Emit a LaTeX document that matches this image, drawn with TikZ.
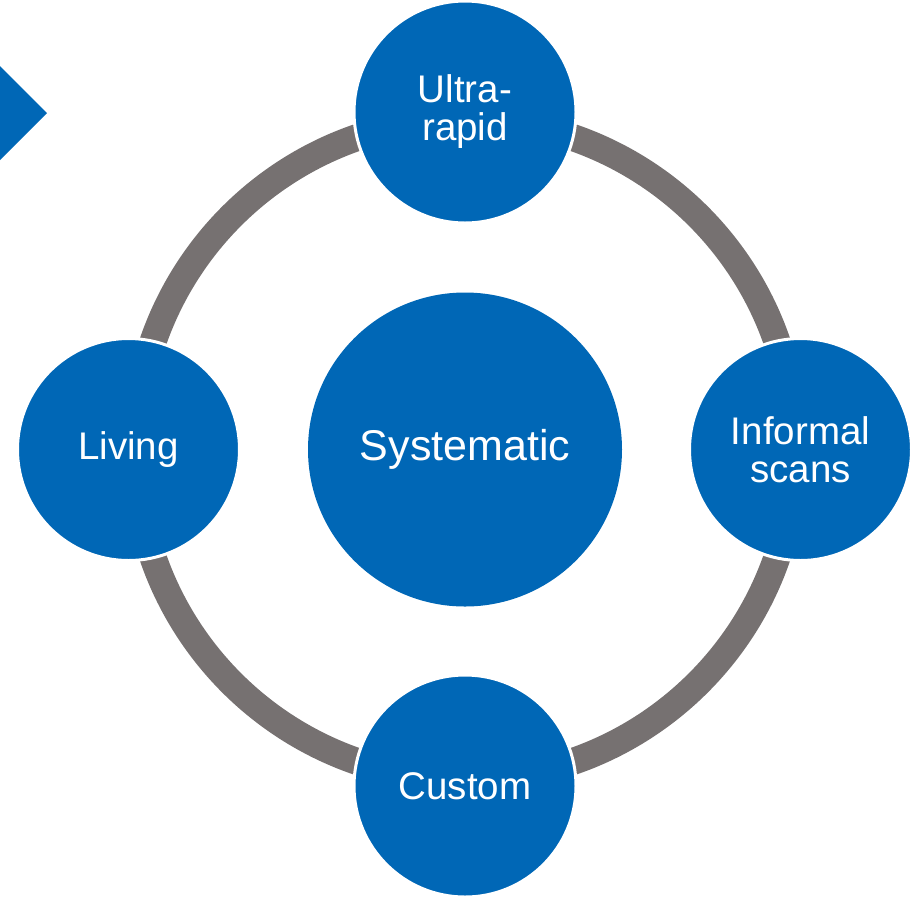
\documentclass[tikz,border=0pt]{standalone}
\usepackage{fontspec}
\setmainfont{Liberation Sans}
\definecolor{cblue}{HTML}{0067B6}
\definecolor{cgray}{HTML}{767171}
\begin{document}
\begin{tikzpicture}[x=1pt,y=-1pt,
  ring/.style={draw=cgray,line width=27pt},
  bigcirc/.style={circle,fill=cblue,inner sep=0pt,minimum size=314pt,text=white,
    font=\fontsize{43}{43}\selectfont},
  smallcirc/.style={circle,fill=cblue,draw=white,line width=3pt,inner sep=0pt,
    minimum size=222pt,text=white,align=center,font=\fontsize{38.5}{38}\selectfont}]
\useasboundingbox (0,0) rectangle (910,898);
\fill[cblue] (0,66) -- (47,113) -- (0,160) -- cycle;
\node[bigcirc] (sys) at (465,449.5) {Systematic};
\draw[ring] (sys.center) circle[radius=330pt];
\node[smallcirc] (ultra) at (465,112) {Ultra-\\rapid};
\node[smallcirc] (informal) at (800.5,449.5) {Informal\\scans};
\node[smallcirc] (custom) at (465,786) {Custom};
\node[smallcirc] (living) at (128.5,449.5) {Living};
\end{tikzpicture}
\end{document}
